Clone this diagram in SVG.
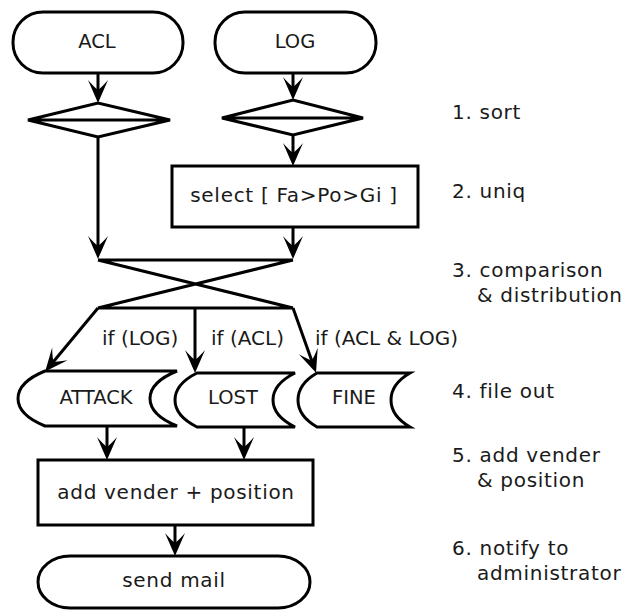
<svg xmlns="http://www.w3.org/2000/svg" width="630" height="610" viewBox="0 0 630 610">
<style>
.s{fill:#fff;stroke:#000;stroke-width:3;stroke-linejoin:miter}
.c{fill:none;stroke:#000;stroke-width:3}
text{font-family:"DejaVu Sans","Liberation Sans",sans-serif;font-size:20px;fill:#1a1a1a;letter-spacing:0.7px}
.m{text-anchor:middle}
.k{font-size:19.5px;letter-spacing:0}
.f{letter-spacing:0}
</style>
<defs>
<marker id="ar" markerUnits="userSpaceOnUse" viewBox="-24 -12 26 24" markerWidth="26" markerHeight="24" refX="-6" refY="0" orient="auto">
<path d="M0,0 L-23,-10 Q-16,-4 -13,0 Q-16,4 -23,10 Z" fill="#000"/>
</marker>
</defs>
<rect width="630" height="610" fill="#fff"/>
<g id="connectors">
<line class="c" x1="98" y1="73" x2="98" y2="97" marker-end="url(#ar)"/>
<line class="c" x1="293" y1="73" x2="293" y2="94" marker-end="url(#ar)"/>
<line class="c" x1="98" y1="137" x2="98" y2="253" marker-end="url(#ar)"/>
<line class="c" x1="293" y1="135" x2="293" y2="160" marker-end="url(#ar)"/>
<line class="c" x1="293" y1="227" x2="293" y2="253" marker-end="url(#ar)"/>
<path class="c" d="M98,260 L293,260 M98,260 L293,308 M293,260 L98,308 M98,308 L293,308"/>
<line class="c" x1="98" y1="308" x2="49" y2="367" marker-end="url(#ar)"/>
<line class="c" x1="195" y1="308" x2="195" y2="367" marker-end="url(#ar)"/>
<line class="c" x1="293" y1="308" x2="314" y2="367" marker-end="url(#ar)"/>
<line class="c" x1="107" y1="426" x2="107" y2="454" marker-end="url(#ar)"/>
<line class="c" x1="244" y1="427" x2="244" y2="454" marker-end="url(#ar)"/>
<line class="c" x1="175" y1="525" x2="175" y2="550" marker-end="url(#ar)"/>
<text class="f" x="102" y="345">if (LOG)</text>
<text class="f" x="211" y="345">if (ACL)</text>
<text class="f" x="315" y="345">if (ACL &amp; LOG)</text>
</g>
<g id="acl">
<rect class="s" x="13" y="12" width="170" height="61" rx="30" ry="30"/>
<text class="m k" x="97" y="48">ACL</text>
</g>
<g id="log">
<rect class="s" x="215" y="12" width="161" height="61" rx="30" ry="30"/>
<text class="m k" x="295" y="48">LOG</text>
</g>
<g id="sort-acl">
<path class="s" d="M28,120 L98,103 L170,120 L98,137 Z M28,120 L170,120"/>
</g>
<g id="sort-log">
<path class="s" d="M222,118 L293,100 L363,118 L293,135 Z M222,118 L363,118"/>
</g>
<g id="select">
<rect class="s" x="172" y="166" width="246" height="61"/>
<text class="m" x="294" y="202">select [ Fa&gt;Po&gt;Gi ]</text>
</g>
<g id="attack">
<path class="s" d="M45,371 L177,371 Q150,382 150,398.5 Q150,415 177,426 L45,426 Q18,415 18,398.5 Q18,382 45,371 Z"/>
<text class="m k" x="96" y="404">ATTACK</text>
</g>
<g id="lost">
<path class="s" d="M197,373 L295,373 Q273,384 273,400 Q273,416 295,427 L197,427 Q175,416 175,400 Q175,384 197,373 Z"/>
<text class="m k" x="233" y="404">LOST</text>
</g>
<g id="fine">
<path class="s" d="M317,373 L410,373 Q391,384 391,400 Q391,416 410,427 L317,427 Q298,416 298,400 Q298,384 317,373 Z"/>
<text class="m k" x="354" y="404">FINE</text>
</g>
<g id="add">
<rect class="s" x="38" y="460" width="275" height="65"/>
<text class="m" x="176" y="499">add vender + position</text>
</g>
<g id="mail">
<rect class="s" x="38" y="556" width="272" height="52" rx="32" ry="26"/>
<text class="m" x="174" y="587">send mail</text>
</g>
<g id="steps">
<text x="452" y="119">1. sort</text>
<text x="452" y="198">2. uniq</text>
<text x="452" y="277">3. comparison</text>
<text x="477" y="302">&amp; distribution</text>
<text x="452" y="398">4. file out</text>
<text x="452" y="462">5. add vender</text>
<text x="477" y="487">&amp; position</text>
<text x="452" y="555">6. notify to</text>
<text x="477" y="580">administrator</text>
</g>
</svg>
